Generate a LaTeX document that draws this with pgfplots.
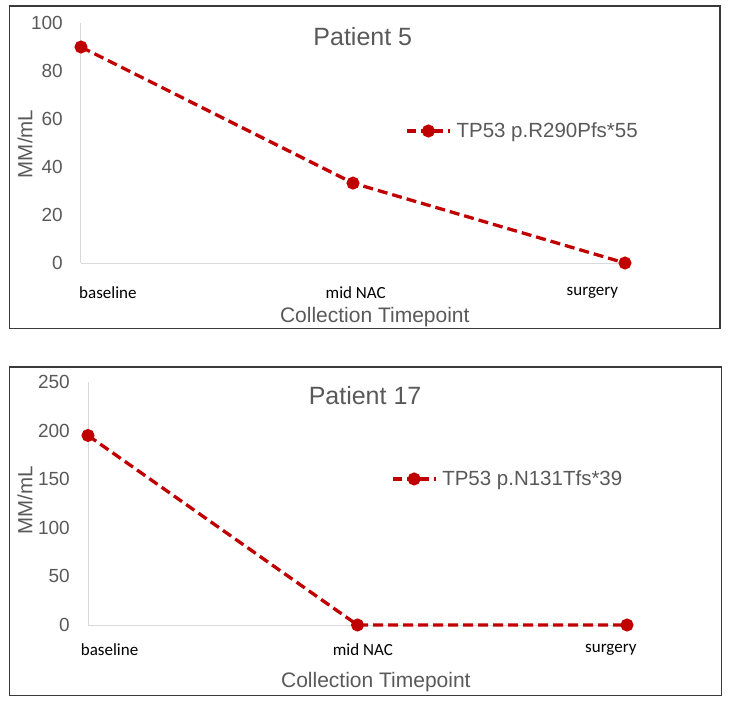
\documentclass[border=0pt]{standalone}
\usepackage{fontspec}
\setmainfont{Liberation Sans}
\newfontfamily\calib{Carlito}
\usepackage{pgfplots}
\pgfplotsset{compat=1.18}
\definecolor{txt}{HTML}{595959}
\definecolor{ln}{HTML}{C00000}
\definecolor{axl}{HTML}{D9D9D9}
\definecolor{frame}{HTML}{3A3A3A}
\pgfplotsset{
  every axis title shift=0pt,
  panel/.style={
    scale only axis, clip=false,
    anchor=south west,
    xmin=0, xmax=2, ymin=0,
    axis x line=bottom, axis y line=left,
    axis line style={draw=axl, line width=1pt, -},
    major tick length=0pt,
    /pgf/number format/assume math mode=true,
    yticklabel style={font=\fontsize{19}{22}\selectfont, text=txt, anchor=east, inner sep=0pt, xshift=-18pt},
    xticklabel style={font=\calib\fontsize{17}{19}\selectfont, text=black, anchor=center, inner sep=0pt},
    xticklabels={baseline, mid NAC, surgery},
    ylabel={MM/mL},
    ylabel style={font=\fontsize{20.5}{23}\selectfont, text=txt, anchor=center},
    xlabel={Collection Timepoint},
    xlabel style={font=\fontsize{21}{24}\selectfont, text=txt, anchor=center},
    title style={font=\fontsize{25}{28}\selectfont, text=txt, anchor=base},
    legend style={draw=none, fill=none, inner sep=0pt, outer sep=0pt, anchor=west,
      font=\fontsize{20.5}{23}\selectfont, text=txt, column sep=3pt,
      nodes={inner sep=1.5pt}},
    legend image code/.code={\draw[mark repeat=2, mark phase=2, #1, dash pattern=on 9pt off 4.5pt] plot coordinates {(0pt,0pt) (21pt,0pt) (43pt,0pt)};},
  },
  series/.style={color=ln, line width=3.3pt, dash pattern=on 10pt off 5pt,
    mark=*, mark size=4.8pt, mark options={solid, fill=ln, draw=ln}},
}
\begin{document}
\begin{tikzpicture}
\useasboundingbox (0pt,0pt) rectangle (730pt,-703pt);
\draw[frame, line width=1.8pt] (9.5pt,-6pt) rectangle (720pt,-328.5pt);
\draw[frame, line width=1.8pt] (9.5pt,-367pt) rectangle (721.5pt,-695.5pt);

\begin{axis}[panel,
  at={(81pt,-263pt)}, width=544pt, height=240pt,
  ymax=100, ytick={0,20,40,60,80,100},
  xtick={0.099,1.01,1.88},
  xticklabel style={yshift=-30pt},
  ylabel style={at={(axis description cs:-0.103,0.496)}},
  xlabel style={at={(axis description cs:0.54,-0.225)}},
  title={Patient 5},
  title style={at={(axis description cs:0.518,0.908)}},
  legend style={at={(axis description cs:0.597,0.55)}},
]
\addplot[series] coordinates {(0,90) (1,33.3) (2,0)};
\addlegendentry{TP53 p.R290Pfs*55}
\end{axis}

\begin{axis}[panel,
  at={(88pt,-625pt)}, width=539pt, height=243pt,
  ymax=250, ytick={0,50,100,150,200,250},
  xtick={0.08,1.02,1.94},
  xticklabel style={yshift=-24.5pt},
  ylabel style={at={(axis description cs:-0.117,0.514)}},
  xlabel style={at={(axis description cs:0.534,-0.2346)}},
  title={Patient 17},
  title style={at={(axis description cs:0.514,0.909)}},
  legend style={at={(axis description cs:0.563,0.601)}},
]
\addplot[series] coordinates {(0,195) (1,0) (2,0)};
\addlegendentry{TP53 p.N131Tfs*39}
\end{axis}
\end{tikzpicture}
\end{document}
